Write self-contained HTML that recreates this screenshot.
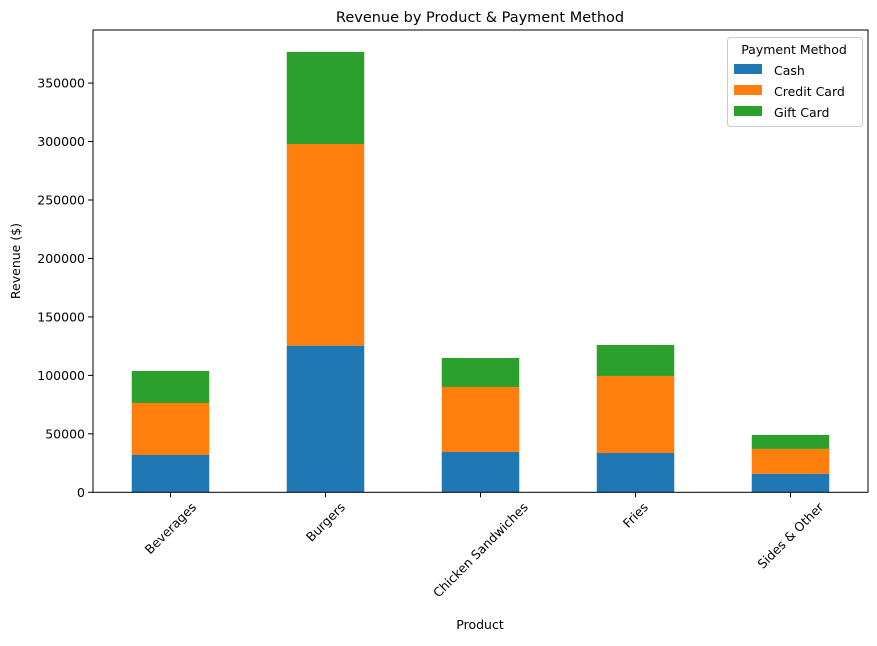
<!DOCTYPE html>
<html><head><meta charset="utf-8"><style>
body{margin:0;background:#fff;font-family:"Liberation Sans","DejaVu Sans",sans-serif;}
svg text{font-family:"DejaVu Sans","Liberation Sans",sans-serif;fill:#000;}
</style></head><body>
<svg id="chart" width="877" height="641" xmlns="http://www.w3.org/2000/svg">
<text x="480" y="22" font-size="14.5" text-anchor="middle">Revenue by Product &amp; Payment Method</text>
<g id="bars"></g>
<g id="axes"></g>
<text x="480" y="629" font-size="12.5" text-anchor="middle">Product</text>
<text transform="translate(20,261) rotate(-90)" font-size="12.5" text-anchor="middle">Revenue ($)</text>
<g>
<rect x="727.5" y="37.5" width="135" height="89" rx="3" fill="#fff" stroke="#ccc"/>
<text x="794" y="54" font-size="12.5" text-anchor="middle">Payment Method</text>
<g><rect x="734" y="64" width="28" height="10" fill="#1f77b4"/><text x="774" y="75" font-size="12.5">Cash</text></g>
<g><rect x="734" y="85" width="28" height="10" fill="#ff7f0e"/><text x="774" y="96" font-size="12.5">Credit Card</text></g>
<g><rect x="734" y="106" width="28" height="10" fill="#2ca02c"/><text x="774" y="117" font-size="12.5">Gift Card</text></g>
</g>
</svg>
<script>
const categories=["Beverages","Burgers","Chicken Sandwiches","Fries","Sides & Other"];
const cash=[31900,125400,34500,33600,15700];
const credit=[44500,172500,55600,65900,21400];
const gift=[27400,78700,24800,26500,12000];
const yTicks=[0,50000,100000,150000,200000,250000,300000,350000];
const colors=["#1f77b4","#ff7f0e","#2ca02c"];
const names=["cash","credit-card","gift-card"];
const L=93,R=868,T=30,B=492.3,yMax=395400;
const ns="http://www.w3.org/2000/svg";
const y=v=>B-(v/yMax)*(B-T);
const band=(R-L)/categories.length;
const xc=i=>L+band*(i+0.5);
const bw=band*0.5;
const bars=document.getElementById('bars'),axes=document.getElementById('axes');
function mk(tag,attrs,parent){const e=document.createElementNS(ns,tag);for(const k in attrs)e.setAttribute(k,attrs[k]);parent.appendChild(e);return e;}
const series=[cash,credit,gift];
categories.forEach((c,i)=>{let base=0;series.forEach((s,k)=>{const r=mk('rect',{x:xc(i)-bw/2,y:y(base+s[i]),width:bw,height:y(base)-y(base+s[i]),fill:colors[k]},bars);


base+=s[i];});
mk('line',{x1:xc(i),x2:xc(i),y1:B,y2:B+5,stroke:'#000'},axes);
const t=mk('text',{x:0,y:0,dy:'0.35em','font-size':12.5,'text-anchor':'middle'},axes);


t.textContent=c;
const w=t.getComputedTextLength();
const bh=(w+13)*0.7071;
t.setAttribute('transform',`translate(${xc(i)},${B+8+bh/2}) rotate(-45)`);});
yTicks.forEach(v=>{mk('line',{x1:L-5,x2:L,y1:y(v),y2:y(v),stroke:'#000'},axes);
const t=mk('text',{x:L-8,y:y(v)+4.5,'font-size':12.5,'text-anchor':'end'},axes);


t.textContent=v;});
mk('rect',{x:L,y:T,width:R-L,height:B-T,fill:'none',stroke:'#000','stroke-width':1},axes);
</script>
</body></html>
